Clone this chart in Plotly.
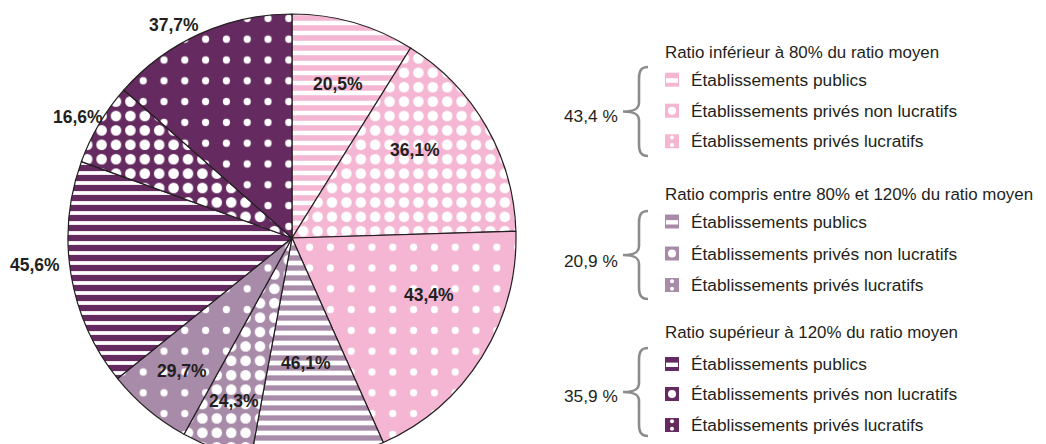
import math
import plotly.graph_objects as go

# ---------------- data ----------------
group_titles = [
    "Ratio inférieur à 80% du ratio moyen",
    "Ratio compris entre 80% et 120% du ratio moyen",
    "Ratio supérieur à 120% du ratio moyen",
]
group_shares = [43.4, 20.9, 35.9]
group_share_labels = ["43,4 %", "20,9 %", "35,9 %"]
categories = [
    "Établissements publics",
    "Établissements privés non lucratifs",
    "Établissements privés lucratifs",
]
inferieur_pct = [20.5, 36.1, 43.4]
compris_pct = [46.1, 24.3, 29.7]
superieur_pct = [45.6, 16.6, 37.7]

# ---------------- style ----------------
W, H = 1046, 462
OFF = 8  # page body margin of the browser
CX, CY, R = 292, 238, 224
group_colors = ["#F4B6D2", "#A88AA9", "#652A60"]
TXT = "#231F20"
FONT = "Liberation Sans, Arial, Helvetica, sans-serif"
FS = 17.5
FS_LEG = 17.3
FS_TITLE = 16.9

def X(px):
    return (px - OFF) / W

def Y(py):
    return 1 - (py - OFF) / H

within = [inferieur_pct, compris_pct, superieur_pct]

values, labels, texts, colors = [], [], [], []
shapes_p, fg, bg, psize, psolid = [], [], [], [], []
stripe_solid = [0.45, 0.47, 0.38]
for g, (gshare, pcts) in enumerate(zip(group_shares, within)):
    for c, p in enumerate(pcts):
        values.append(gshare * p / 100)
        labels.append(f"{group_titles[g]} - {categories[c]}")
        texts.append(f"{p:.1f}%".replace(".", ","))
        colors.append(group_colors[g])
        fg.append("white")
        bg.append(group_colors[g])
        if c == 0:
            shapes_p.append("-"); psize.append(10); psolid.append(stripe_solid[g])
        elif c == 1:
            shapes_p.append("."); psize.append(14.4); psolid.append(0.42)
        else:
            shapes_p.append("."); psize.append(20.8); psolid.append(0.094)

fig = go.Figure()
fig.add_trace(go.Pie(
    values=values,
    labels=labels,
    sort=False,
    direction="clockwise",
    rotation=0,
    textinfo="none",
    hovertemplate="%{label}<extra></extra>",
    showlegend=False,
    marker=dict(
        colors=colors,
        line=dict(color=TXT, width=1.2),
        pattern=dict(shape=shapes_p, fgcolor=fg, bgcolor=bg, size=psize,
                     solidity=psolid, fillmode="replace"),
    ),
    domain=dict(x=[X(CX - R), X(CX + R)], y=[Y(CY + R), Y(CY - R)]),
))

# slice labels placed along each slice's mid angle
label_radius = [0.716, 0.675, 0.662, 0.56, 0.774, 0.772, 1.155, 1.097, 1.087]
label_dangle = [0.7, -5.7, -9.7, 0.3, 0.0, -0.3, 3.4, -1.2, -4.7]
total = sum(values)
annotations = []
cum = 0.0
for i, v in enumerate(values):
    mid = (cum + v / 2) / total * 360 + label_dangle[i]
    cum += v
    a = math.radians(mid)
    px = CX + R * label_radius[i] * math.sin(a)
    py = CY - R * label_radius[i] * math.cos(a)
    annotations.append(dict(
        x=X(px), y=Y(py), xref="paper", yref="paper", text=texts[i],
        showarrow=False, xanchor="center", yanchor="middle",
        font=dict(family=FONT, size=FS, color=TXT, weight="bold"),
    ))

# legend (custom, grouped with braces)
title_y = [52, 194, 332.5]
item_y = [[79.7, 110.7, 141.3], [221.5, 253.5, 285], [364, 394, 425]]
share_y = [115.7, 261, 396]
brace_y = [(67, 156), (211, 299), (348, 436)]
SW_X0, SW_X1 = 665, 679
shapes = []
for g in range(3):
    annotations.append(dict(
        x=X(663), y=Y(title_y[g]), xref="paper", yref="paper", text=group_titles[g],
        showarrow=False, xanchor="left", yanchor="middle",
        font=dict(family=FONT, size=FS_TITLE, color=TXT),
    ))
    annotations.append(dict(
        x=X(620), y=Y(share_y[g]), xref="paper", yref="paper", text=group_share_labels[g],
        showarrow=False, xanchor="right", yanchor="middle",
        font=dict(family=FONT, size=FS_LEG, color=TXT),
    ))
    y0, y1 = brace_y[g]
    ym = (y0 + y1) / 2
    pts = [
        ("M", [(648, y0)]),
        ("C", [(641, y0), (639, y0 + 4), (639, y0 + 12)]),
        ("L", [(639, ym - 9)]),
        ("C", [(639, ym - 3), (635, ym), (623, ym)]),
        ("C", [(635, ym), (639, ym + 3), (639, ym + 9)]),
        ("L", [(639, y1 - 12)]),
        ("C", [(639, y1 - 4), (641, y1), (648, y1)]),
    ]
    path = " ".join(cmd + " ".join(f"{X(px):.5f},{Y(py):.5f}" for px, py in p) for cmd, p in pts)
    shapes.append(dict(type="path", path=path, xref="paper", yref="paper",
                       line=dict(color="#8C8C8C", width=2.6)))
    col = group_colors[g]
    for c in range(3):
        cy = item_y[g][c]
        annotations.append(dict(
            x=X(689), y=Y(cy), xref="paper", yref="paper", text=categories[c],
            showarrow=False, xanchor="left", yanchor="middle",
            font=dict(family=FONT, size=FS_LEG, color=TXT),
        ))
        shapes.append(dict(type="rect", xref="paper", yref="paper",
                           x0=X(SW_X0), x1=X(SW_X1), y0=Y(cy + 7), y1=Y(cy - 7),
                           fillcolor=col, line=dict(width=0)))
        mx = (SW_X0 + SW_X1) / 2
        if c == 0:
            shapes.append(dict(type="rect", xref="paper", yref="paper",
                               x0=X(SW_X0 + 1), x1=X(SW_X1 - 1), y0=Y(cy + 3), y1=Y(cy - 1.4),
                               fillcolor="white", line=dict(width=0)))
        elif c == 1:
            shapes.append(dict(type="circle", xref="paper", yref="paper",
                               x0=X(mx - 4), x1=X(mx + 4), y0=Y(cy + 4), y1=Y(cy - 4),
                               fillcolor="white", line=dict(width=0)))
        else:
            for dy in (-3.8, 3.8):
                shapes.append(dict(type="circle", xref="paper", yref="paper",
                                   x0=X(mx - 2), x1=X(mx + 2), y0=Y(cy + dy + 2), y1=Y(cy + dy - 2),
                                   fillcolor="white", line=dict(width=0)))

fig.update_layout(
    width=W, height=H,
    margin=dict(l=0, r=0, t=0, b=0),
    paper_bgcolor="white", plot_bgcolor="white",
    annotations=annotations,
    shapes=shapes,
    font=dict(family=FONT, color=TXT),
)

fig.write_html("out.html")
